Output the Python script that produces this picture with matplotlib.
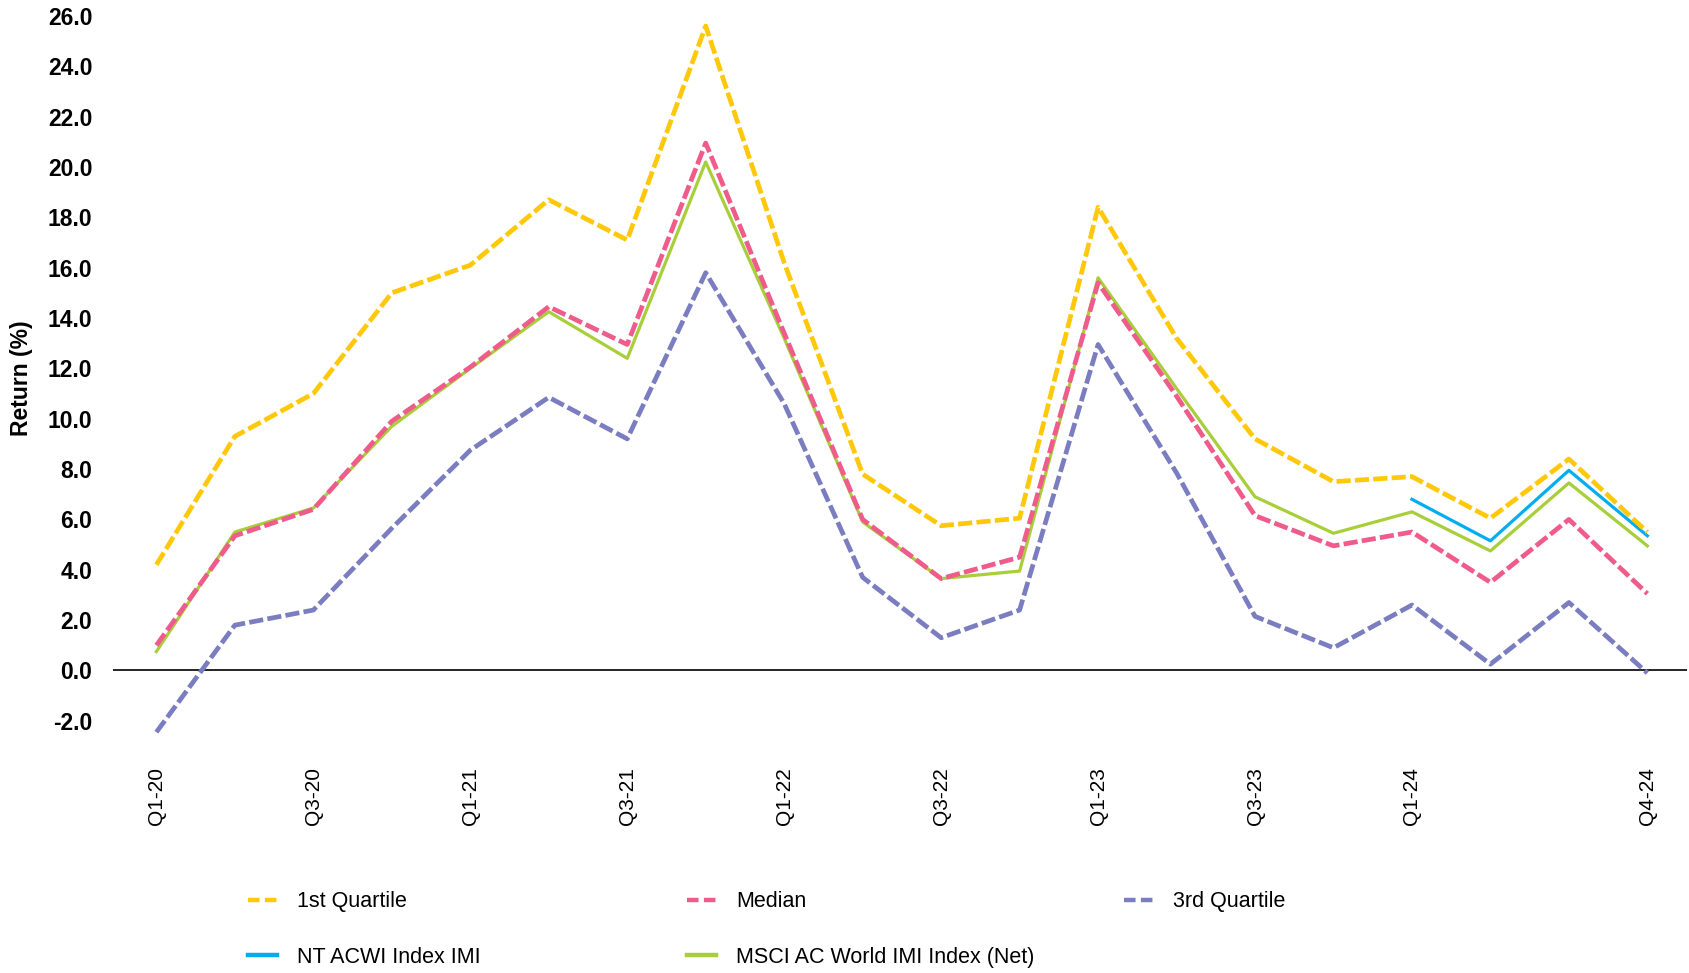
import matplotlib
matplotlib.use("Agg")
import numpy as np
import matplotlib.pyplot as plt
from matplotlib.lines import Line2D

# === Data ===
quarters = [
    "Q1-20", "Q2-20", "Q3-20", "Q4-20",
    "Q1-21", "Q2-21", "Q3-21", "Q4-21",
    "Q1-22", "Q2-22", "Q3-22", "Q4-22",
    "Q1-23", "Q2-23", "Q3-23", "Q4-23",
    "Q1-24", "Q2-24", "Q3-24", "Q4-24",
]
shown_ticks = ["Q1-20", "Q3-20", "Q1-21", "Q3-21", "Q1-22", "Q3-22",
               "Q1-23", "Q3-23", "Q1-24", "Q4-24"]

first_quartile = [4.2, 9.3, 11.0, 15.0, 16.1, 18.7, 17.1, 25.6,
                  16.2, 7.8, 5.75, 6.05, 18.4, 13.2, 9.2, 7.5,
                  7.7, 6.05, 8.4, 5.5]
median = [1.0, 5.35, 6.4, 9.9, 12.05, 14.45, 12.95, 20.95,
          13.4, 6.0, 3.65, 4.5, 15.4, 10.9, 6.15, 4.95,
          5.5, 3.5, 6.0, 3.05]
third_quartile = [-2.45, 1.8, 2.4, 5.65, 8.75, 10.85, 9.2, 15.8,
                  10.6, 3.7, 1.3, 2.4, 12.95, 7.85, 2.15, 0.9,
                  2.6, 0.25, 2.7, -0.1]
nt_acwi = [np.nan] * 16 + [6.8, 5.15, 7.95, 5.35]
msci_acwi = [0.75, 5.5, 6.45, 9.7, 12.0, 14.25, 12.4, 20.2,
             13.2, 5.9, 3.65, 3.95, 15.6, 11.2, 6.9, 5.45,
             6.3, 4.75, 7.45, 4.95]

plt.rcParams["font.family"] = ["Liberation Sans", "DejaVu Sans"]

C_FIRST = "#FFC80A"
C_MEDIAN = "#EF5B8B"
C_THIRD = "#7B7DC1"
C_NT = "#00AEEF"
C_MSCI = "#A8CE3A"

x = np.arange(len(quarters))

fig = plt.figure(figsize=(16.9, 9.73), dpi=100)
ax = fig.add_axes([0.067, 0.2333, 0.931, 0.7503])

dash = (3, 0.9)
ax.plot(x, msci_acwi, color=C_MSCI, lw=2.3, zorder=3)
ax.plot(x, nt_acwi, color=C_NT, lw=2.3, zorder=3)
ax.plot(x, third_quartile, color=C_THIRD, lw=3.4, dashes=dash, zorder=4, clip_on=False)
ax.plot(x, median, color=C_MEDIAN, lw=3.4, dashes=dash, zorder=5)
ax.plot(x, first_quartile, color=C_FIRST, lw=3.4, dashes=dash, zorder=6)

ax.axhline(0, color="black", lw=1.2, zorder=2)

# === Axes styling ===
ax.set_xlim(-0.55, 19.5)
ax.set_ylim(-3, 26)
ax.set_yticks(np.arange(-2, 27, 2))
ax.set_yticklabels([f"{v:.1f}" for v in np.arange(-2, 27, 2)],
                   fontsize=16.5, fontweight="bold")
ax.set_xticks([quarters.index(q) for q in shown_ticks])
ax.set_xticklabels(shown_ticks, rotation=90, fontsize=15)
ax.tick_params(axis="both", length=0)
ax.tick_params(axis="y", pad=15)
ax.tick_params(axis="x", pad=15)
for s in ax.spines.values():
    s.set_visible(False)

fig.text(0.0125, 0.6115, "Return (%)", rotation=90, ha="center", va="center",
         fontsize=16.5, fontweight="bold")

# === Legend: fixed grid like the source ===
entries = [
    ("1st Quartile", C_FIRST, True, 0.1467, 0.073),
    ("Median", C_MEDIAN, True, 0.4065, 0.073),
    ("3rd Quartile", C_THIRD, True, 0.665, 0.073),
    ("NT ACWI Index IMI", C_NT, False, 0.1467, 0.0164),
    ("MSCI AC World IMI Index (Net)", C_MSCI, False, 0.4065, 0.0164),
]
for label, color, dashed, lx, ly in entries:
    if dashed:
        h = Line2D([], [], color=color, lw=3.2, dashes=(2.6, 1.2))
    else:
        h = Line2D([], [], color=color, lw=3.2)
    fig.legend(handles=[h], labels=[label], loc="center left",
               bbox_to_anchor=(lx, ly), frameon=False, fontsize=15.5,
               handlelength=1.35, handletextpad=0.95, borderpad=0,
               borderaxespad=0)

fig.savefig("out.png", dpi=100)
plt.close(fig)
